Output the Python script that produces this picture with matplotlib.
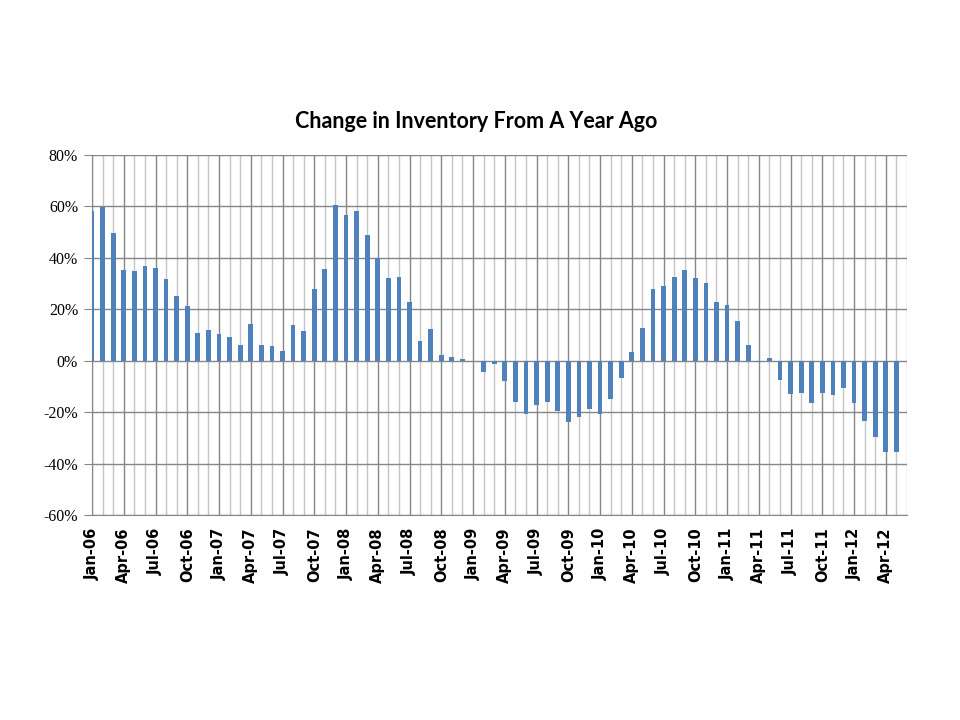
import matplotlib
matplotlib.use("Agg")
import matplotlib.pyplot as plt
from matplotlib.ticker import FixedLocator

plt.rcParams["axes.unicode_minus"] = False

months = ["Jan", "Feb", "Mar", "Apr", "May", "Jun", "Jul", "Aug", "Sep", "Oct", "Nov", "Dec"]
categories = [f"{months[i % 12]}-{6 + i // 12:02d}" for i in range(77)]

values = [
    58.3, 59.9, 49.5, 35.1, 34.7, 37.0, 36.0, 31.7, 25.1, 21.2, 10.7, 11.8,
    10.3, 9.1, 6.0, 14.2, 6.0, 5.6, 3.6, 13.8, 11.4, 27.8, 35.6, 60.7,
    56.5, 58.1, 49.0, 40.1, 32.1, 32.7, 23.0, 7.5, 12.2, 2.1, 1.3, 0.5,
    0.0, -4.5, -1.4, -8.0, -15.9, -20.6, -17.2, -16.1, -19.7, -23.9, -21.9, -18.8,
    -20.6, -15.0, -6.8, 3.3, 12.9, 27.8, 29.2, 32.7, 35.1, 32.0, 30.4, 23.0,
    21.5, 15.3, 6.0, -0.4, 0.9, -7.6, -12.9, -12.5, -16.5, -12.6, -13.4, -10.7,
    -16.5, -23.5, -29.7, -35.5, -35.5,
]

y_ticks = [-60, -40, -20, 0, 20, 40, 60, 80]
y_labels = [f"{v}%" for v in y_ticks]

title = "Change in Inventory From A Year Ago"
bar_color = "#4F81BD"

fig = plt.figure(figsize=(9.6, 7.2), dpi=100)
ax = fig.add_axes([92 / 960, 1 - 515 / 720, (907 - 92) / 960, (515 - 155) / 720])

x = list(range(len(values)))
ax.bar(x, values, width=0.45, color=bar_color, zorder=3)

ax.set_xlim(0, 77)
ax.set_ylim(-60, 80)
ax.set_yticks(y_ticks)
ax.set_yticklabels(y_labels, fontsize=11.5, fontfamily="Liberation Serif")

major = list(range(0, 77, 3))
ax.xaxis.set_major_locator(FixedLocator(major))
ax.xaxis.set_minor_locator(FixedLocator(list(range(0, 78))))
ax.set_xticklabels([categories[i] for i in major], rotation=90, fontsize=10.5,
                   fontfamily="DejaVu Sans", fontweight="bold")

ax.grid(axis="y", which="major", color="#868686", linewidth=1.0, zorder=1)
ax.grid(axis="x", which="minor", color="#C4C4C4", linewidth=1.0, zorder=1)
ax.grid(axis="x", which="major", color="#868686", linewidth=1.0, zorder=1)

for s in ["top", "right"]:
    ax.spines[s].set_visible(False)
ax.spines["left"].set_color("#868686")
ax.spines["bottom"].set_color("#868686")

ax.tick_params(axis="y", length=6, color="#868686", pad=4)
ax.tick_params(axis="x", which="both", length=0, pad=9)

fig.text(476 / 960, 1 - 122 / 720, title, ha="center", va="center",
         fontsize=15.5, fontweight="bold", fontfamily="Lato")

fig.savefig("out.png", dpi=100)
